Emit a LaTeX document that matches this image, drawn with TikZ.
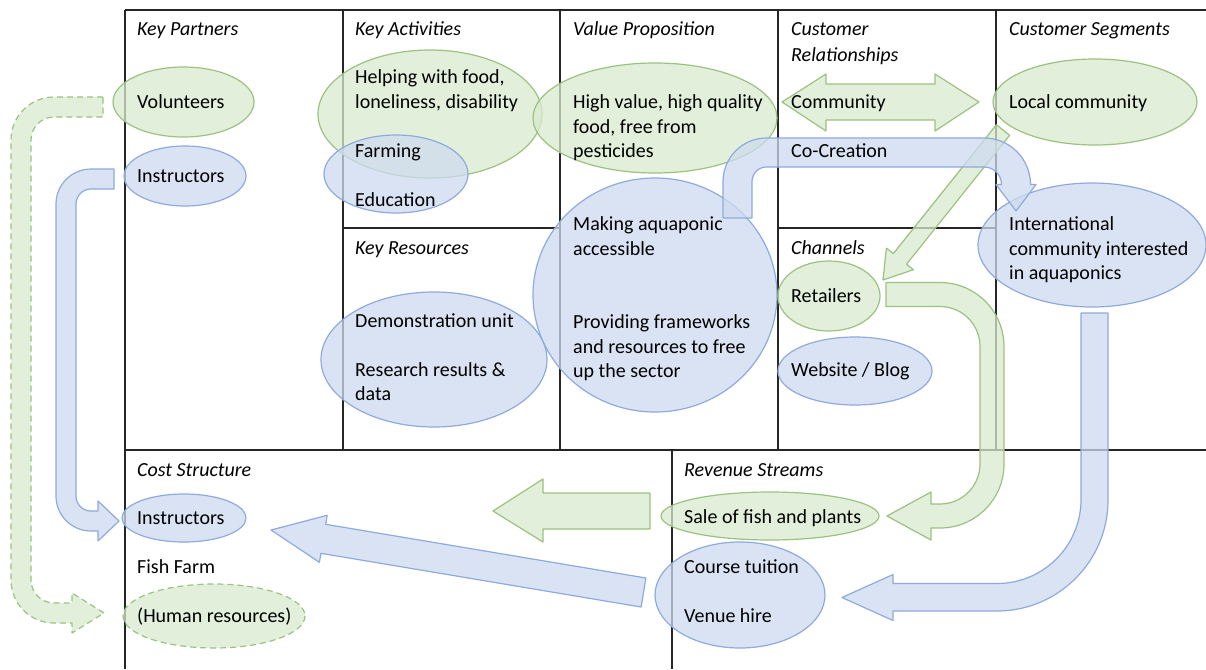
\documentclass[tikz,border=0pt]{standalone}
\usepackage{fontspec}
\setmainfont{Carlito}
\definecolor{gfill}{RGB}{216,234,206}
\definecolor{gline}{RGB}{155,194,128}
\definecolor{bfill}{RGB}{206,218,239}
\definecolor{bline}{RGB}{143,170,220}
\tikzset{
  gshape/.style={fill=gfill, draw=gline, fill opacity=0.75, line width=1.2pt, line join=round},
  bshape/.style={fill=bfill, draw=bline, fill opacity=0.75, line width=1.2pt, line join=round},
  dashline/.style={dash pattern=on 6pt off 4pt},
  gridline/.style={draw=black!85, line width=1.4pt},
  lbl/.style={anchor=base west, inner sep=0pt, font=\fontsize{20}{24}\selectfont, text=black},
  ttl/.style={lbl, font=\fontsize{20}{24}\selectfont\itshape},
}
\begin{document}
\begin{tikzpicture}[x=1pt, y=-1pt]
\useasboundingbox (0,0) rectangle (1206,669);
% ---------- grid ----------
\draw[gridline] (125,10) -- (1206,10);
\draw[gridline] (125,10) -- (125,669);
\draw[gridline] (343,10) -- (343,450);
\draw[gridline] (560,10) -- (560,450);
\draw[gridline] (778,10) -- (778,450);
\draw[gridline] (996,10) -- (996,450);
\draw[gridline] (343,228) -- (560,228);
\draw[gridline] (778,228) -- (996,228);
\draw[gridline] (125,450) -- (1206,450);
\draw[gridline] (672,450) -- (672,669);
% ---------- ellipses ----------
\draw[gshape] (183.5,102) ellipse [x radius=70.5, y radius=35];
\draw[bshape] (185,176) ellipse [x radius=61, y radius=30];
\draw[gshape] (430,114) ellipse [x radius=112, y radius=64];
\draw[bshape] (396,174) ellipse [x radius=72, y radius=39];
\draw[gshape] (655,118) ellipse [x radius=122, y radius=55];
\draw[bshape] (655,295) ellipse [x radius=122, y radius=117];
\draw[bshape] (434,359.5) ellipse [x radius=113, y radius=67.5];
\draw[gshape] (1095,102) ellipse [x radius=102, y radius=43];
\draw[bshape] (1092,245) ellipse [x radius=114, y radius=62];
\draw[gshape] (829,296) ellipse [x radius=51, y radius=35];
\draw[bshape] (855,371) ellipse [x radius=77, y radius=34];
\draw[bshape] (184,518) ellipse [x radius=62, y radius=24];
\draw[gshape, dashline] (214,616) ellipse [x radius=91, y radius=32];
\draw[gshape] (770,516) ellipse [x radius=109, y radius=24];
\draw[bshape] (740,595) ellipse [x radius=85, y radius=53];
% ---------- block arrows ----------
% Community double arrow
\draw[gshape] (782,102) -- (826,74) -- (826,84) -- (935,84) -- (935,74) -- (979,102)
  -- (935,131) -- (935,120) -- (826,120) -- (826,131) -- cycle;
% Local community -> Retailers
\draw[gshape] (996.4,124.7) -- (1009.6,135.3) -- (906.5,264.2) -- (913.4,269.7) -- (883,280)
  -- (886.4,248.1) -- (893.3,253.6) -- cycle;
% Co-Creation arrow
\draw[bshape] (723,218) -- (723,181.5) arc[start angle=180, end angle=270, radius=43.5]
  -- (984,138) arc[start angle=270, end angle=360, radius=46.5]
  -- (1036,184.5) -- (1016,211) -- (996,184.5) -- (1001.5,184.5)
  arc[start angle=360, end angle=270, radius=17.5]
  -- (766.5,167) arc[start angle=270, end angle=180, radius=14.5]
  -- (752,218) -- cycle;
% International -> Course tuition
\draw[bshape] (1081,313) -- (1108,313) -- (1108,500)
  arc[start angle=0, end angle=90, radius=111]
  -- (893,611) -- (893,620.5) -- (842,597.5) -- (893,574.5) -- (893,583.5) -- (997,583.5)
  arc[start angle=90, end angle=0, radius=84]
  -- cycle;
% Retailers -> Sale of fish and plants
\draw[gshape] (886,282.5) -- (940,282.5) arc[start angle=270, end angle=360, radius=64]
  -- (1004,464) arc[start angle=0, end angle=90, radius=64]
  -- (931,528) -- (931,540) -- (887,516) -- (931,492) -- (931,504) -- (940,504)
  arc[start angle=90, end angle=0, radius=40]
  -- (980,346.5) arc[start angle=360, end angle=270, radius=40]
  -- (886,306.5) -- cycle;
% Revenue -> Cost (green)
\draw[gshape] (493,511) -- (543,479) -- (543,493) -- (650,493) -- (650,529) -- (543,529)
  -- (543,542) -- cycle;
% Revenue -> Cost (blue)
\draw[bshape] (645.9,578.0) -- (325.7,524.3) -- (327.2,515.3) -- (271,530) -- (319.4,562.3)
  -- (320.9,553.3) -- (641.1,607.0) -- cycle;
% Instructors -> Instructors
\draw[bshape] (114,169) -- (91,169) arc[start angle=270, end angle=180, radius=35]
  -- (56,496) arc[start angle=180, end angle=90, radius=35]
  -- (98,531) -- (98,541) -- (119,521) -- (98,501) -- (98,511) -- (91,511)
  arc[start angle=90, end angle=180, radius=15]
  -- (76,204) arc[start angle=180, end angle=270, radius=15]
  -- (114,189) -- cycle;
% Volunteers -> Human resources (dashed)
\draw[gshape, dashline] (103,97) -- (54,97) arc[start angle=270, end angle=180, radius=43]
  -- (11,580) arc[start angle=180, end angle=90, radius=43]
  -- (72,623) -- (72,633) -- (104,613) -- (72,593) -- (72,603) -- (54,603)
  arc[start angle=90, end angle=180, radius=23]
  -- (31,140) arc[start angle=180, end angle=270, radius=23]
  -- (103,117) -- cycle;
% ---------- titles ----------
\node[ttl] (tkp) at (137,36) {Key Partners};
\node[ttl] (tka) at (355,36) {Key Activities};
\node[ttl] (tvp) at (573,36) {Value Proposition};
\node[ttl] (tcr1) at (791,36) {Customer};
\node[ttl] (tcr2) at (791,61) {Relationships};
\node[ttl] (tcs) at (1009,36) {Customer Segments};
\node[ttl] (tkr) at (355,254) {Key Resources};
\node[ttl] (tch) at (791,254) {Channels};
\node[ttl] (tcost) at (137,476) {Cost Structure};
\node[ttl] (trev) at (684,476) {Revenue Streams};
% ---------- texts ----------
\node[lbl] (vol) at (137,108) {Volunteers};
\node[lbl] (ins) at (137,182) {Instructors};
\node[lbl] (ka1) at (355,83) {Helping with food,};
\node[lbl] (ka2) at (355,108) {loneliness, disability};
\node[lbl] (ka3) at (355,157) {Farming};
\node[lbl] (ka4) at (355,206) {Education};
\node[lbl] (vp1) at (573,108) {High value, high quality};
\node[lbl] (vp2) at (573,133) {food, free from};
\node[lbl] (vp3) at (573,157) {pesticides};
\node[lbl] (vp4) at (573,230) {Making aquaponic};
\node[lbl] (vp5) at (573,255) {accessible};
\node[lbl] (vp6) at (573,328) {Providing frameworks};
\node[lbl] (vp7) at (573,353) {and resources to free};
\node[lbl] (vp8) at (573,377) {up the sector};
\node[lbl] (cr1) at (791,108) {Community};
\node[lbl] (cr2) at (791,157) {Co-Creation};
\node[lbl] (cs1) at (1009,108) {Local community};
\node[lbl] (cs2) at (1009,230) {International};
\node[lbl] (cs3) at (1009,255) {community interested};
\node[lbl] (cs4) at (1009,279) {in aquaponics};
\node[lbl] (kr1) at (355,327) {Demonstration unit};
\node[lbl] (kr2) at (355,376) {Research results \&};
\node[lbl] (kr3) at (355,400) {data};
\node[lbl] (ch1) at (791,302) {Retailers};
\node[lbl] (ch2) at (791,376) {Website / Blog};
\node[lbl] (co1) at (137,524) {Instructors};
\node[lbl] (co2) at (137,573) {Fish Farm};
\node[lbl] (co3) at (137,622) {(Human resources)};
\node[lbl] (rs1) at (684,523) {Sale of fish and plants};
\node[lbl] (rs2) at (684,573) {Course tuition};
\node[lbl] (rs3) at (684,622) {Venue hire};
\end{tikzpicture}
\end{document}
